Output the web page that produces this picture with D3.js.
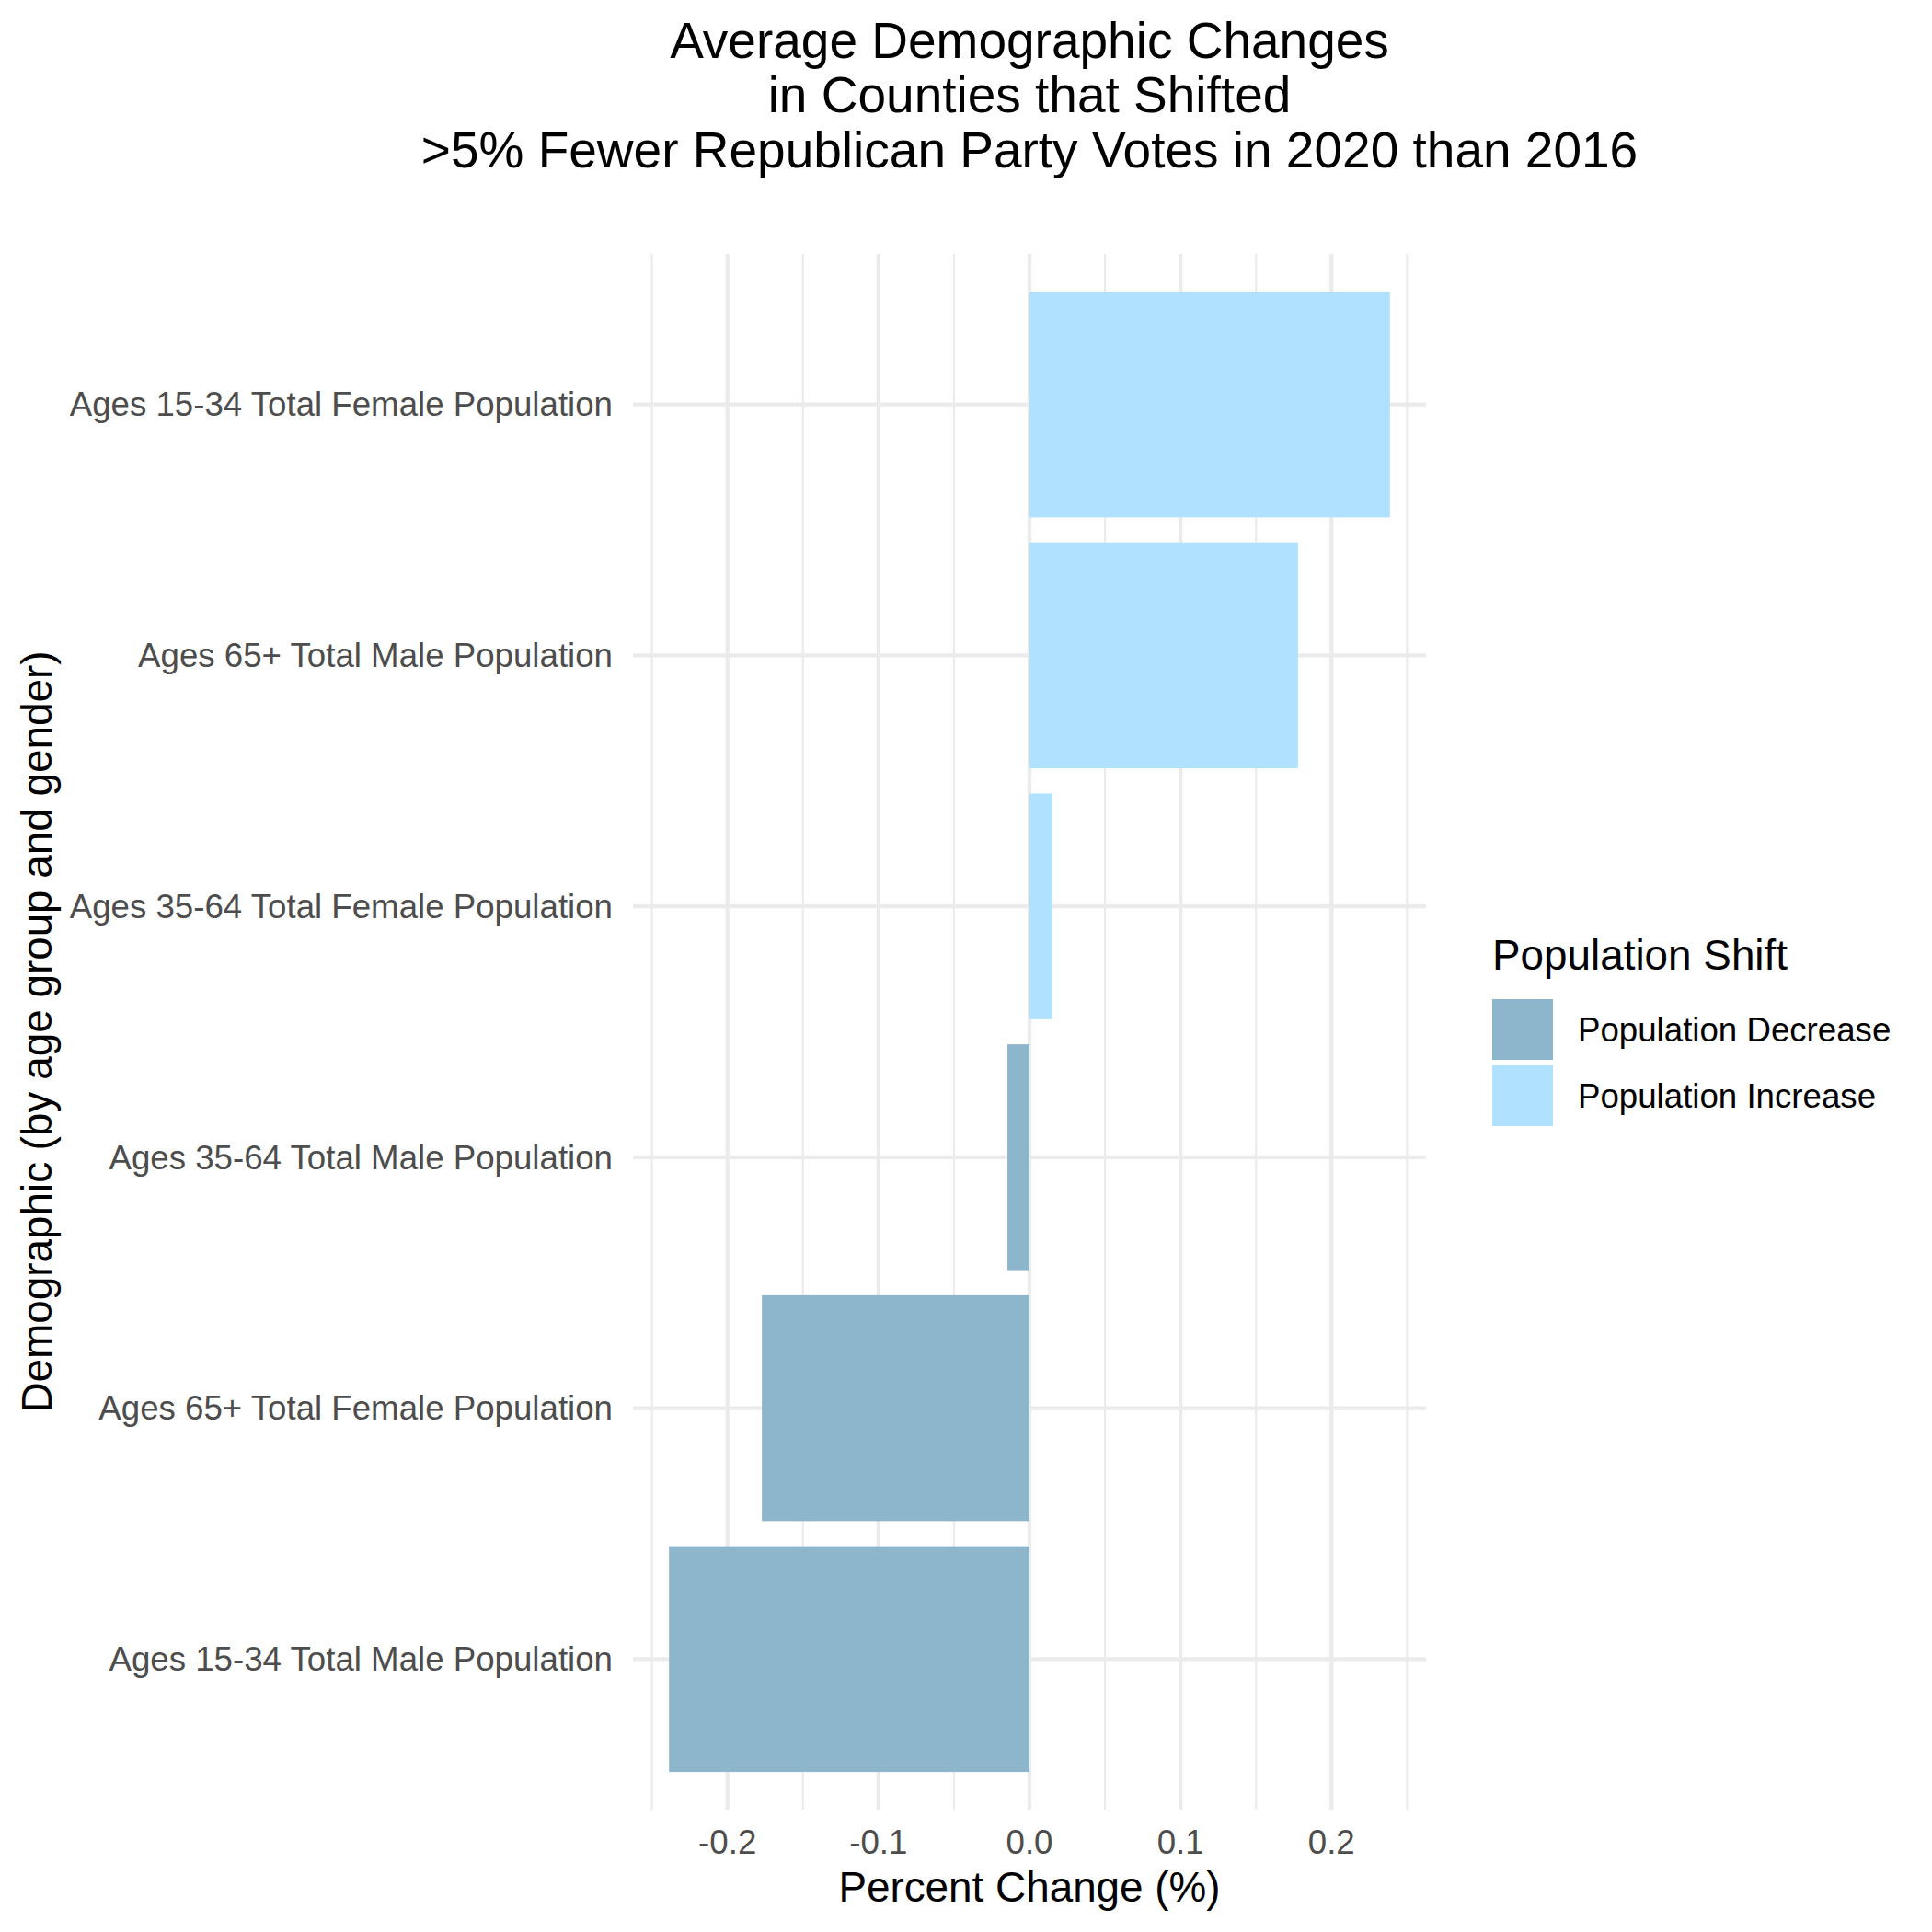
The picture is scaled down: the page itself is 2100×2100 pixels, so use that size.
<!DOCTYPE html>
<html>
<head>
<meta charset="utf-8">
<script src="https://cdn.jsdelivr.net/npm/d3@7"></script>
<style>
  html, body { margin: 0; padding: 0; background: #fff; }
  svg text { font-family: "Liberation Sans", Arial, Helvetica, sans-serif; }
</style>
</head>
<body>
<svg id="chart" width="2100" height="2100"></svg>
<script>
// ---- data ----
const categories = [
  "Ages 15-34 Total Female Population",
  "Ages 65+ Total Male Population",
  "Ages 35-64 Total Female Population",
  "Ages 35-64 Total Male Population",
  "Ages 65+ Total Female Population",
  "Ages 15-34 Total Male Population"
];
const values = [0.2387, 0.1778, 0.0152, -0.0146, -0.1772, -0.2387];
const shifts = [
  "Population Increase", "Population Increase", "Population Increase",
  "Population Decrease", "Population Decrease", "Population Decrease"
];
const legendLabels = ["Population Decrease", "Population Increase"];
const legendColors = ["#8DB6CD", "#B0E2FF"];
const xMajorTicks = [-0.2, -0.1, 0.0, 0.1, 0.2];
const xMinorTicks = [-0.25, -0.15, -0.05, 0.05, 0.15, 0.25];
const titleLines = [
  "Average Demographic Changes",
  "in Counties that Shifted",
  ">5% Fewer Republican Party Votes in 2020 than 2016"
];
const xTitle = "Percent Change (%)";
const yTitle = "Demographic (by age group and gender)";
const legendTitle = "Population Shift";

// ---- layout ----
const svg = d3.select("#chart");
const panel = { left: 688, right: 1550, top: 276, bottom: 1967 };
const gridCol = "#EBEBEB";
const axisTextCol = "#4D4D4D";

// ggplot-style 5% expansion of continuous range (incl. 0 as bar base)
const lo = Math.min(0, d3.min(values)), hi = Math.max(0, d3.max(values));
const pad = (hi - lo) * 0.05;
const x = d3.scaleLinear().domain([lo - pad, hi + pad]).range([panel.left, panel.right]);
const y = d3.scaleBand().domain(categories).range([panel.top, panel.bottom])
  .paddingInner(0.1).paddingOuter(0.15);
const color = d3.scaleOrdinal().domain(legendLabels).range(legendColors);
const yc = c => y(c) + y.bandwidth() / 2;

// grid
const grid = svg.append("g");
grid.selectAll(".minor").data(xMinorTicks).join("line")
  .attr("x1", d => x(d)).attr("x2", d => x(d))
  .attr("y1", panel.top).attr("y2", panel.bottom)
  .attr("stroke", gridCol).attr("stroke-width", 2.15);
grid.selectAll(".majx").data(xMajorTicks).join("line")
  .attr("x1", d => x(d)).attr("x2", d => x(d))
  .attr("y1", panel.top).attr("y2", panel.bottom)
  .attr("stroke", gridCol).attr("stroke-width", 4.3);
grid.selectAll(".majy").data(categories).join("line")
  .attr("x1", panel.left).attr("x2", panel.right)
  .attr("y1", d => yc(d)).attr("y2", d => yc(d))
  .attr("stroke", gridCol).attr("stroke-width", 4.3);

// bars
svg.append("g").selectAll("rect").data(categories).join("rect")
  .attr("x", (d, i) => x(Math.min(0, values[i])))
  .attr("width", (d, i) => Math.abs(x(values[i]) - x(0)))
  .attr("y", d => y(d))
  .attr("height", y.bandwidth())
  .attr("fill", (d, i) => color(shifts[i]));

// x axis tick labels
const fmt = d3.format(".1f");
svg.append("g").selectAll("text").data(xMajorTicks).join("text")
  .attr("x", d => x(d)).attr("y", 2015)
  .attr("text-anchor", "middle")
  .attr("font-size", 36.67).attr("fill", axisTextCol)
  .text(d => fmt(d).replace("\u2212", "-"));

// y axis labels
svg.append("g").selectAll("text").data(categories).join("text")
  .attr("x", 666).attr("y", d => yc(d) + 12.8)
  .attr("text-anchor", "end")
  .attr("font-size", 36.67).attr("fill", axisTextCol)
  .text(d => d);

// axis titles
svg.append("text")
  .attr("x", (panel.left + panel.right) / 2).attr("y", 2066.5)
  .attr("text-anchor", "middle").attr("font-size", 45.83).attr("fill", "#000")
  .text(xTitle);
svg.append("text")
  .attr("transform", `translate(55.5,${(panel.top + panel.bottom) / 2}) rotate(-90)`)
  .attr("text-anchor", "middle").attr("font-size", 45.83).attr("fill", "#000")
  .text(yTitle);

// title
svg.append("g").selectAll("text").data(titleLines).join("text")
  .attr("x", (panel.left + panel.right) / 2)
  .attr("y", (d, i) => 62.5 + i * 59.5)
  .attr("text-anchor", "middle").attr("font-size", 55).attr("fill", "#000")
  .text(d => d);

// legend
const lg = svg.append("g");
lg.append("text").attr("x", 1622).attr("y", 1054)
  .attr("font-size", 45.83).attr("fill", "#000").text(legendTitle);
const items = lg.selectAll("g.item").data(legendLabels).join("g")
  .attr("transform", (d, i) => `translate(1622,${1086 + i * 72})`);
items.append("rect").attr("width", 66).attr("height", 66)
  .attr("fill", d => color(d));
items.append("text").attr("x", 93).attr("y", 33 + 12.8)
  .attr("font-size", 36.67).attr("fill", "#000").text(d => d);
</script>
</body>
</html>
